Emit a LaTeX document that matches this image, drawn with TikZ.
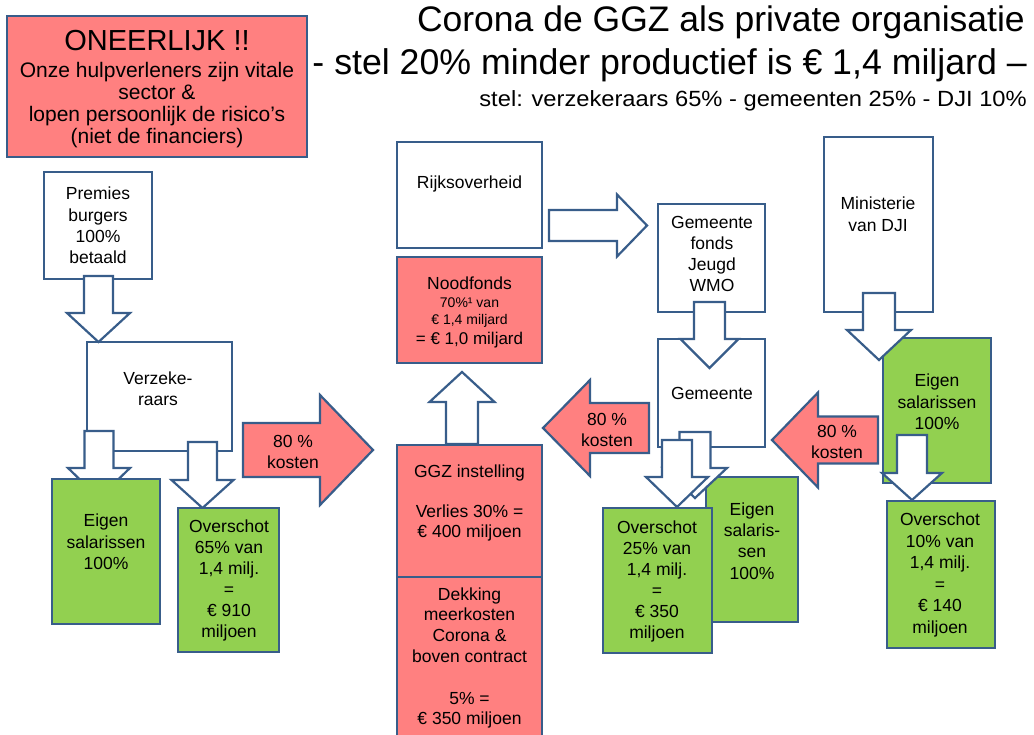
\documentclass[tikz,border=0pt]{standalone}
\usepackage{fontspec}
\setmainfont{Liberation Sans}
\definecolor{pk}{RGB}{255,128,128}
\definecolor{gr}{RGB}{146,208,80}
\definecolor{bd}{RGB}{56,93,138}
\tikzset{
  box/.style={draw=bd, line width=2.2pt, inner sep=0pt, outer sep=0pt},
  whitebox/.style={box, fill=white},
  pinkbox/.style={box, fill=pk},
  greenbox/.style={box, fill=gr},
  blk/.style={draw=bd, line width=2.2pt, line join=miter, fill=white},
  pblk/.style={blk, fill=pk},
  txt/.style={inner sep=0pt, align=center, text=black, font=\fontsize{17.5}{21.3}\selectfont},
  title/.style={inner sep=0pt, anchor=base east, text=black},
}
% box: name x1 y1 x2 y2 style
\newcommand\bx[6]{\node[#6, minimum width={(#4-#2)*1pt}, minimum height={(#5-#3)*1pt}] (#1) at ({(#2+#4)/2},{(#3+#5)/2}) {};}
% vertical block arrow: name cx top head tip sw hw style
\newcommand\varr[8]{\draw[#8] ({#2-#6},#3) -- ({#2+#6},#3) -- ({#2+#6},#4) -- ({#2+#7},#4) -- (#2,#5) -- ({#2-#7},#4) -- ({#2-#6},#4) -- cycle; \coordinate (#1) at (#2,#5);}
% horizontal block arrow: name cy tail head tip sw hw style
\newcommand\harr[8]{\draw[#8] (#3,{#2-#6}) -- (#3,{#2+#6}) -- (#4,{#2+#6}) -- (#4,{#2+#7}) -- (#5,#2) -- (#4,{#2-#7}) -- (#4,{#2-#6}) -- cycle; \coordinate (#1) at (#5,#2);}
\begin{document}
\begin{tikzpicture}[x=1pt, y=-1pt]
\useasboundingbox (0,0) rectangle (1034,735);
\clip (0,0) rectangle (1034,735);
\fill[white] (0,0) rectangle (1034,735);

% titles
\node[title, font=\fontsize{35.5}{35.5}\selectfont] (t1) at (1025,32) {Corona de GGZ als private organisatie};
\node[title, font=\fontsize{35.7}{35.7}\selectfont] (t2) at (1027,75) {- stel 20\% minder productief is € 1,4 miljard –};
\node[title, font=\fontsize{22}{22}\selectfont] (t3) at (1027,107) {\scalebox{1.077}[1]{stel: verzekeraars 65\% - gemeenten 25\% - DJI 10\%}};

% ONEERLIJK
\bx{oneer}{7}{16}{307}{157}{pinkbox}
\node[txt, font=\fontsize{29}{29}\selectfont] (oneerT) at (157,41) {ONEERLIJK !!};
\node[txt, font=\fontsize{21}{22}\selectfont] (oneerS) at (157,105) {Onze hulpverleners zijn vitale\\sector \&\\ lopen persoonlijk de risico’s\\(niet de financiers)};

% left column
\bx{prem}{44}{172}{152}{279}{whitebox}
\node[txt] (premT) at (98,225.5) {Premies\\burgers\\100\%\\betaald};
\bx{verz}{87}{342}{232}{451}{whitebox}
\node[txt] (verzT) at (158,389) {Verzeke-\\raars};
\varr{a1}{98.5}{276}{313}{342}{14.5}{31.5}{blk}
\varr{a2}{99}{431}{468}{498}{14.5}{31}{blk}
\varr{a3}{202.5}{442}{480}{508}{14.5}{31}{blk}
\bx{eigL}{52}{479}{160}{624}{greenbox}
\node[txt] (eigLT) at (106,542) {Eigen\\salarissen\\100\%};
\bx{ovL}{178}{508}{279}{652}{greenbox}
\node[txt, font=\fontsize{17.5}{21}\selectfont] (ovLT) at (229,580) {Overschot\\65\% van\\1,4 milj.\\=\\€ 910\\miljoen};
\harr{a4}{450}{243}{320}{373}{27}{55}{pblk}
\node[txt, font=\fontsize{17.5}{20.5}\selectfont] (a4T) at (293,452) {80 \%\\kosten};

% middle column
\bx{rijks}{397}{142}{542}{248}{whitebox}
\node[txt] (rijksT) at (469.5,184) {Rijksoverheid};
\bx{nood}{397}{257}{542}{363}{pinkbox}
\node[txt] (noodT1) at (469.5,283) {Noodfonds};
\node[txt, font=\fontsize{14}{14}\selectfont] (noodT2) at (469.5,303) {70\%¹ van};
\node[txt, font=\fontsize{14}{14}\selectfont] (noodT3) at (469.5,321) {€ 1,4 miljard};
\node[txt, font=\fontsize{17}{17}\selectfont] (noodT4) at (469.5,340) {= € 1,0 miljard};
\bx{ggz}{397}{445}{542}{577}{pinkbox}
\node[txt, font=\fontsize{17.5}{20}\selectfont] (ggzT) at (469.5,503) {GGZ instelling\\\mbox{}\\Verlies 30\% =\\€ 400 miljoen};
\bx{dekk}{397}{577}{542}{745}{pinkbox}
\node[txt, font=\fontsize{17.5}{20.8}\selectfont] (dekkT) at (469.5,658) {Dekking\\meerkosten\\Corona \&\\boven contract\\\mbox{}\\5\% =\\€ 350 miljoen};
\varr{a5}{462}{444}{402}{372}{16}{32.5}{blk}
\harr{a6}{225.5}{549}{617}{647}{15.5}{31}{blk}

% gemeente column
\bx{fonds}{658}{204}{765}{312}{whitebox}
\node[txt] (fondsT) at (712,254) {Gemeente\\fonds\\Jeugd\\WMO};
\bx{gem}{658}{339}{765}{447}{whitebox}
\node[txt] (gemT) at (712,393) {Gemeente};
\varr{a7}{709.5}{302}{339}{368}{15.5}{29}{blk}
\harr{a8}{428}{649}{590}{543}{25}{48}{pblk}
\node[txt, font=\fontsize{17.5}{21}\selectfont] (a8T) at (607,430) {80 \%\\kosten};
\bx{eigM}{706}{477}{798}{622}{greenbox}
\node[txt] (eigMT) at (752,541) {Eigen\\salaris-\\sen\\100\%};
\varr{a9}{695}{432}{468}{498}{15.5}{32}{blk}
\varr{a10}{677}{440}{477}{507}{15}{31}{blk}
\bx{ovM}{603}{508}{712}{653}{greenbox}
\node[txt, font=\fontsize{17.5}{21}\selectfont] (ovMT) at (657,581) {Overschot\\25\% van\\1,4 milj.\\=\\€ 350\\miljoen};

% DJI column
\bx{dji}{824}{137}{933}{312}{whitebox}
\node[txt, font=\fontsize{17.5}{22}\selectfont] (djiT) at (878,214) {Ministerie\\van DJI};
\bx{eigR}{883}{338}{991}{483}{greenbox}
\node[txt, font=\fontsize{17.5}{21.5}\selectfont] (eigRT) at (937,402) {Eigen\\salarissen\\100\%};
\varr{a11}{879}{293}{330}{360}{16}{32}{blk}
\varr{a12}{912}{435}{473}{500}{15}{30}{blk}
\bx{ovR}{887}{501}{995}{648}{greenbox}
\node[txt, font=\fontsize{17.5}{21.5}\selectfont] (ovRT) at (940,575) {Overschot\\10\% van\\1,4 milj.\\=\\€ 140\\miljoen};
\harr{a13}{440}{878}{818}{772}{23.5}{47.5}{pblk}
\node[txt, font=\fontsize{17.5}{21}\selectfont] (a13T) at (837,442) {80 \%\\kosten};
\end{tikzpicture}
\end{document}
